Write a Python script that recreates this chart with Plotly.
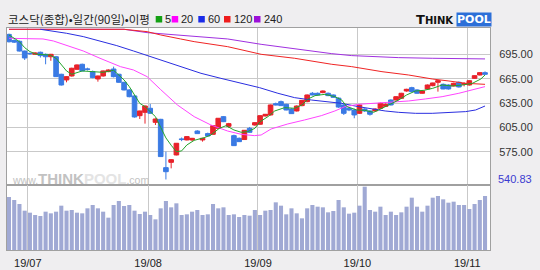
import plotly.graph_objects as go

# ---------------- data ----------------
days = list(range(1, 93))  # trading-day index, 2019-06-25 .. 2019-11-06

opens = [719.5, 712, 711, 699, 696.2, 695, 697.5, 695, 692, 692,
         670.4, 663.4, 668.3, 676.5, 682.7, 677, 673.6, 664.6, 668.3, 673.6,
         676.9, 670.4, 660.5, 651.1, 643.7, 619.4, 623.5, 628.5, 611.2, 614.9,
         555.4, 561.9, 571, 590.8, 589.5, 589.5, 600.5, 589.5, 597.3, 596.4,
         603.8, 618.2, 606.3, 594.8, 591.5, 590, 603.8, 607.9, 608.8, 619,
         620.3, 634.2, 636.7, 633.4, 627.6, 625.2, 631.8, 636.7, 647, 647,
         647.8, 647, 644.9, 641, 632.6, 628.5, 626.4, 622.3, 627.6, 625.2,
         625.2, 628.5, 630.9, 638.7, 638.7, 640.8, 649.8, 653.9, 651.1, 647,
         652.3, 656.4, 660.5, 658, 657.2, 656, 660.5, 658, 657.2, 665.4,
         669.5, 672.4]
highs = [720.5, 713.5, 712, 699.5, 697, 697.5, 698.3, 696, 695.5, 693,
         671, 668, 678.5, 682.5, 683.5, 678.5, 675, 668.8, 675, 676.5,
         679.8, 671, 661, 652, 645, 625.5, 632, 633.8, 616, 615.5,
         575.1, 566, 585.5, 592.5, 594, 592, 601.5, 592, 598.5, 607.5,
         616.5, 619, 610.5, 596, 592.5, 601.6, 605.5, 611.5, 620, 621.5,
         633, 635.5, 638, 634, 628.5, 632, 638.5, 645.5, 648.5, 648,
         650.5, 648, 645.5, 642, 633.5, 630, 628, 633.5, 628.5, 626,
         628.5, 635.5, 634.5, 639.5, 643.5, 647.5, 652.5, 655, 652, 650.5,
         657.8, 660, 663.4, 659, 658, 660, 661.5, 660.5, 663, 669,
         673, 674]
lows = [709.5, 709, 698.5, 688, 694.5, 694.5, 691, 682.7, 687, 667,
        656.5, 660.5, 667.5, 676, 674, 675, 665.5, 661.3, 667.5, 673,
        666.5, 660, 650.5, 642, 617, 615.3, 609.6, 621.5, 607.9, 568.5,
        540.83, 554.5, 570.5, 588, 589, 588, 597, 587.4, 594, 596,
        603, 611.5, 604.5, 582, 587, 589.5, 598.5, 607, 608, 618.5,
        619.5, 632, 631.5, 626, 621.5, 624.5, 631, 636, 644.5, 644.5,
        647, 643.5, 641.5, 629, 620.3, 625, 616.2, 621.5, 624, 619.4,
        624.5, 628, 630, 632, 638, 640, 649, 648.5, 646.5, 646.5,
        651.5, 655.5, 649, 652, 651.5, 655.5, 654, 655.5, 656.5, 665,
        669, 669.5]
closes = [710.5, 710, 699, 690.5, 695.8, 696.6, 693.4, 692, 695, 667.5,
          657.2, 667.5, 677.8, 681.9, 674.5, 676.5, 666.3, 668.3, 674.5, 675.7,
          667.5, 660.5, 651.1, 642.8, 617.8, 625.2, 631.3, 622.3, 615.3, 569,
          550.4, 565.2, 585.4, 590, 593.6, 591.5, 597.3, 591.5, 594.4, 607.1,
          616.2, 612, 609.6, 582.5, 587.4, 601.4, 598.9, 610.8, 619.4, 621.1,
          632.6, 632.6, 631.8, 626.4, 621.9, 631.3, 638.3, 644.9, 644.9, 645,
          649.8, 644.1, 642, 630, 622.3, 626.4, 620.3, 632.6, 625.2, 621.1,
          627.6, 634.6, 633.4, 632.6, 642.8, 647, 651.9, 649, 647, 649.8,
          657.2, 659.7, 662.5, 652.3, 652.3, 659.3, 654.8, 659, 662.5, 668.7,
          672.4, 670.4]
volume = [159, 150, 138, 118, 112, 105, 102, 115, 110, 115,
          133, 118, 120, 112, 110, 125, 135, 125, 115, 97,
          135, 147, 132, 135, 118, 108, 115, 105, 92, 125,
          147, 128, 140, 105, 107, 115, 120, 105, 107, 138,
          125, 128, 105, 107, 99, 105, 103, 120, 105, 118,
          120, 143, 133, 107, 125, 110, 95, 125, 135, 130,
          128, 113, 117, 150, 128, 109, 112, 133, 190, 120,
          115, 130, 105, 115, 105, 113, 130, 157, 130, 115,
          133, 157, 162, 152, 142, 145, 135, 135, 123, 138,
          150, 162]

ma5_d = [1, 3, 4, 5, 6.3, 8.8, 10, 11, 12, 13, 15, 17, 19, 21, 22, 23, 24, 25, 26, 27,
         28, 29, 30, 31, 32, 33, 34, 35, 36.4, 38.3, 39.6, 41.2, 42.5, 44, 45.4, 46.6,
         48, 49, 50.5, 51.8, 53.7, 55.6, 57, 58.2, 59.5, 61.4, 63.3, 64.6, 65.6, 67.5,
         69, 70.7, 72.3, 74, 75.5, 77, 78.7, 80.3, 82, 83.8, 85.7, 87.7, 89.6, 91.2, 92]
ma5_v = [718.8, 710.6, 703.2, 698.3, 695, 694.2, 690.1, 681.9, 674.5, 670.4, 674.5,
         673.6, 672.8, 675.3, 669.5, 663.4, 655.2, 644.1, 634.6, 630.5, 624.4, 618.2,
         605, 592, 583, 575, 576, 583.3, 589, 592.3, 595.6, 603.8, 607.1, 601.8, 598.9,
         599.7, 603.8, 612, 618.2, 625.2, 629.3, 628.5, 632.6, 640, 644.1, 645.7, 642.8,
         638.7, 630.5, 626.4, 626, 623.5, 628.5, 633.4, 638.7, 644.9, 649.8, 650.6,
         653.1, 657.2, 656, 657.2, 659.3, 664.6, 669.5]

ma20_d = [1, 5.6, 7.5, 9.5, 12, 15.2, 18.4, 22.3, 24.8, 27.4, 30, 33.2, 36.4, 39.6,
          42.8, 45.4, 47.9, 49.2, 51.1, 54.3, 57.5, 60.7, 63.3, 65.2, 67.8, 71, 74.2,
          77.4, 80.6, 83.8, 87, 89.6, 92]
ma20_v = [714.7, 714.7, 713.9, 711.4, 705.7, 699.1, 690.1, 679.8, 675.7, 667.5,
          651.5, 632.6, 618.2, 607.9, 600.5, 596.4, 594.8, 595.6, 603, 609.2, 614.1,
          619.4, 625.2, 630.5, 633.4, 634.6, 635.5, 637.5, 640, 642.8, 647, 651.1, 655.2]

ma60_d = [7, 12, 15.2, 18.4, 21.6, 24.8, 27.4, 30, 33.8, 37.7, 41.5, 45.4, 48.9, 52.4,
          55.6, 58.8, 62, 64.6, 67.8, 70.4, 72.9, 75.5, 78.7, 81.9, 85.1, 88.3, 90.2, 92]
ma60_v = [725.8, 720.9, 716.8, 711.4, 705.7, 699.1, 693.4, 688, 679.8, 671.6, 665.4,
          659.3, 653.9, 647, 641.6, 638.7, 636.7, 634.6, 630.5, 627.6, 625.2, 623.5,
          622.3, 622.3, 623.1, 624.4, 626.4, 631.3]

ma120_d = [1, 23, 27.4, 30, 33.8, 36.4, 42.8, 49.2, 55.6, 62.7, 66.5, 72.3, 77.4, 81.9,
           85.1, 88.3, 92]
ma120_v = [725.8, 725.8, 722.9, 718.8, 713.9, 710.6, 704.4, 695, 690.1, 682.7, 679.8,
           673.6, 669.5, 664.6, 662.1, 659.3, 658]

ma240_d = [1, 23, 27.4, 33.8, 36.4, 42.8, 49.2, 55.6, 62.7, 66.5, 70.4, 75.5, 81.9, 88.3, 92]
ma240_v = [725.8, 725.8, 721.7, 718.8, 716.8, 713.9, 707.3, 701.6, 695.8, 693.4, 692.1,
           690.9, 690.1, 689.3, 689.3]

month_days = [5, 28, 49, 68, 89]
month_labels = ["19/07", "19/08", "19/09", "19/10", "19/11"]
price_ticks = [575, 605, 635, 665, 695]
price_min_label = 540.83

title_text = "코스닥(종합)•일간(90일)•이평"
ma_names = ["5", "20", "60", "120", "240"]

# ---------------- style ----------------
W, H = 540, 270
BG = "#efeef0"
GRID = "#c9c9c9"
BORDER = "#a0a0a0"
RED = "#e8222a"
BLUE = "#3a7ae4"
VOLC = "#a0a9d4"
MA_COLORS = ["#22a52a", "#ff44ff", "#2a2ee0", "#f02424", "#a030e0"]
LEG_COLORS = ["#14a014", "#ff00ff", "#1a2be8", "#ee1c1c", "#9c10d8"]
NUMFONT = "Liberation Sans"

X0, X1 = 7, 490
PY0, PY1 = 28, 185
VY1 = 250

def px(x):
    return x / W

def py(y):
    return 1 - y / H

fig = go.Figure()

fig.add_trace(go.Bar(
    x=days, y=volume, width=0.78, marker=dict(color=VOLC, line=dict(width=0)),
    xaxis="x2", yaxis="y2", hoverinfo="skip"))

fig.add_trace(go.Candlestick(
    x=days, open=opens, high=highs, low=lows, close=closes,
    increasing=dict(line=dict(color=RED, width=1), fillcolor=RED),
    decreasing=dict(line=dict(color=BLUE, width=1), fillcolor=BLUE),
    whiskerwidth=0, xaxis="x", yaxis="y", hoverinfo="skip"))

for d, v, c in [(ma240_d, ma240_v, MA_COLORS[4]), (ma120_d, ma120_v, MA_COLORS[3]),
                (ma60_d, ma60_v, MA_COLORS[2]), (ma20_d, ma20_v, MA_COLORS[1]),
                (ma5_d, ma5_v, MA_COLORS[0])]:
    fig.add_trace(go.Scatter(x=d, y=v, mode="lines", line=dict(color=c, width=1),
                             xaxis="x", yaxis="y", hoverinfo="skip"))

xr = [0.62, 92.95]
grid_x = [d - 0.4 for d in month_days]
common_x = dict(domain=[px(X0), px(X1)], range=xr, tickvals=grid_x, showgrid=True,
                gridcolor=GRID, gridwidth=1, zeroline=False, showline=True,
                linecolor=BORDER, linewidth=1, mirror=True, ticks="", fixedrange=True)

fig.update_layout(
    width=W, height=H, margin=dict(l=0, r=0, t=0, b=0),
    paper_bgcolor=BG, plot_bgcolor="white", showlegend=False,
    boxgap=0.12, boxgroupgap=0,
    xaxis=dict(**common_x, anchor="y", showticklabels=False,
               rangeslider=dict(visible=False)),
    yaxis=dict(domain=[py(PY1), py(PY0)], range=[534.0, 727.4], side="right",
               anchor="x", tickvals=price_ticks,
               ticktext=[f"{v:.2f}" for v in price_ticks],
               tickfont=dict(family=NUMFONT, size=11, color="#333333"),
               ticks="", ticklabelstandoff=6, showgrid=True, gridcolor=GRID,
               gridwidth=1, zeroline=False, showline=True, linecolor=BORDER,
               mirror=True, fixedrange=True),
    xaxis2=dict(**common_x, anchor="y2", showticklabels=True, ticktext=month_labels,
                tickfont=dict(family=NUMFONT, size=11, color="#222222"),
                ticklabelstandoff=3),
    yaxis2=dict(domain=[py(VY1), py(PY1)], range=[0, 195], anchor="x2",
                showticklabels=False, showgrid=False, zeroline=False, showline=True,
                linecolor=BORDER, mirror=True, ticks="", fixedrange=True),
)

ann = []
# min label
ann.append(dict(x=px(496), y=price_min_label, xref="paper", yref="y", text=f"{price_min_label:.2f}",
                showarrow=False, xanchor="left", yanchor="middle",
                font=dict(family=NUMFONT, size=11, color="#3b3bd0")))
# title
ann.append(dict(x=px(6), y=py(19), xref="paper", yref="paper", text=title_text,
                showarrow=False, xanchor="left", yanchor="middle",
                font=dict(family="Noto Sans CJK KR", size=11.5, color="#222222")))
shapes = []
sq_x = [155.7, 171.7, 198.3, 224, 254]
for sx, col, name in zip(sq_x, LEG_COLORS, ma_names):
    shapes.append(dict(type="rect", xref="paper", yref="paper",
                       x0=px(sx), x1=px(sx + 6.5), y0=py(22.5), y1=py(16),
                       fillcolor=col, line=dict(width=0)))
    ann.append(dict(x=px(sx + 7.5), y=py(19), xref="paper", yref="paper", text=name,
                    showarrow=False, xanchor="left", yanchor="middle",
                    font=dict(family=NUMFONT, size=11, color="#222222")))
# logo
ann.append(dict(x=px(456), y=py(19), xref="paper", yref="paper",
                text="<b>T<span style='font-size:10px'>HINK</span></b>",
                showarrow=False, xanchor="right", yanchor="middle",
                font=dict(family="DejaVu Sans", size=13, color="#111111")))
ann.append(dict(x=px(456), y=py(19), xref="paper", yref="paper",
                text="<b>POOL</b>", showarrow=False, xanchor="left", yanchor="middle",
                bgcolor="#2c6fd8", borderpad=0,
                font=dict(family="DejaVu Sans", size=11, color="white")))
# watermark
ann.append(dict(x=px(80), y=py(178), xref="paper", yref="paper",
                text="www.<b><span style='font-size:15px'>THINK</span>"
                     "<span style='font-size:15px;color:#e4e4e4'>POOL</span></b>.com",
                showarrow=False, xanchor="center", yanchor="middle",
                font=dict(family="Liberation Sans", size=10.5, color="#c2c2c2")))

fig.update_layout(annotations=ann, shapes=shapes)

fig.write_html("out.html")
